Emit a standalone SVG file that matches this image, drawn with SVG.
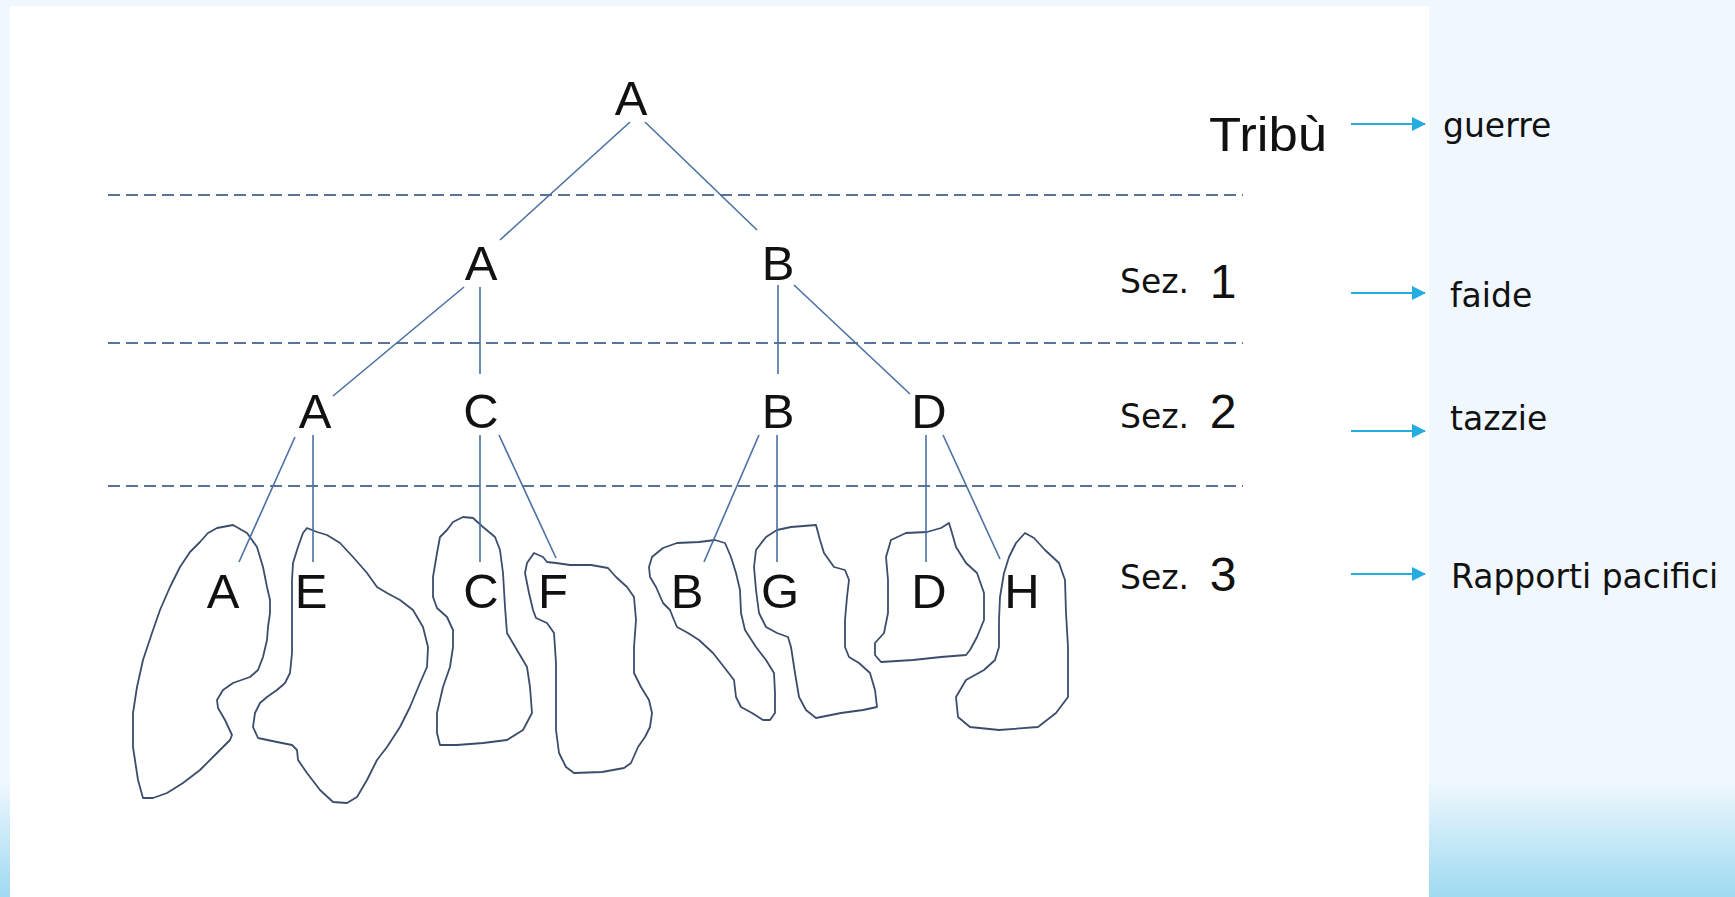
<svg xmlns="http://www.w3.org/2000/svg" width="1735" height="897" viewBox="0 0 1735 897">
  <defs>
    <linearGradient id="bottomFade" x1="0" y1="0" x2="0" y2="1">
      <stop offset="0" stop-color="#f0f8fd"/>
      <stop offset="1" stop-color="#9fdaf2"/>
    </linearGradient>
    <marker id="arrowHead" viewBox="0 0 14 14" refX="13" refY="7" markerWidth="14" markerHeight="14" markerUnits="userSpaceOnUse" orient="auto">
      <path d="M0,0 L14,7 L0,14 Z" fill="#27ace2"/>
    </marker>
  </defs>
  <style>
    .tree { font-family: "Liberation Sans", Arial, sans-serif; font-size: 49px; fill: #111; text-anchor: middle; }
    .num { font-family: "Liberation Sans", Arial, sans-serif; font-size: 48px; fill: #111; text-anchor: middle; }
    .lbl { font-family: "DejaVu Sans", sans-serif; font-size: 33px; fill: #111; }
    .edge { stroke: #4a70a4; stroke-width: 1.6; fill: none; }
    .level { stroke: #5b7396; stroke-width: 2; stroke-dasharray: 12 6; fill: none; }
    .blob { stroke: #3c4d6c; stroke-width: 1.8; fill: none; stroke-linejoin: round; }
    .arrow { stroke: #27ace2; stroke-width: 2.2; fill: none; }
  </style>

  <!-- page background -->
  <rect x="0" y="0" width="1735" height="897" fill="#f0f8fd"/>
  <rect x="0" y="780" width="1735" height="117" fill="url(#bottomFade)"/>
  <rect x="10" y="6" width="1419" height="891" fill="#ffffff"/>

  <!-- segment level separators -->
  <g id="levels">
    <line class="level" x1="108" y1="195" x2="1243" y2="195"/>
    <line class="level" x1="108" y1="343" x2="1243" y2="343"/>
    <line class="level" x1="108" y1="486" x2="1243" y2="486"/>
  </g>

  <!-- territory outlines -->
  <g id="territories">
    <path class="blob" d="M233,525 L217,528 L208,533 L200,542 L190,552 L180,567 L170,587 L160,610 L152,633 L143,660 L137,687 L133,713 L133,747 L138,780 L143,798 L153,798 L167,793 L183,783 L200,770 L217,753 L230,740 L232,735 L225,720 L218,708 L217,700 L223,690 L233,683 L250,677 L258,670 L263,657 L267,640 L268,627 L270,613 L270,600 L267,587 L263,567 L257,547 L247,533 Z"/>
    <path class="blob" d="M307,528 L317,532 L327,535 L340,543 L353,557 L367,573 L377,587 L387,593 L400,600 L413,610 L423,627 L428,647 L427,667 L420,683 L410,707 L400,727 L387,747 L377,760 L367,780 L357,797 L347,803 L333,802 L320,790 L307,773 L298,760 L297,750 L292,745 L277,742 L258,738 L253,727 L255,713 L260,703 L267,697 L277,690 L285,683 L290,673 L292,653 L292,630 L292,607 L292,580 L293,563 L298,547 L303,533 Z"/>
    <path class="blob" d="M463,517 L473,518 L483,527 L495,537 L500,550 L503,573 L505,607 L507,633 L517,650 L527,667 L530,687 L532,713 L523,730 L507,740 L483,743 L457,745 L440,745 L437,733 L437,713 L443,687 L450,667 L453,647 L453,630 L447,617 L437,608 L433,597 L433,577 L437,553 L440,537 L447,530 L453,522 Z"/>
    <path class="blob" d="M534,553 L543,557 L547,562 L556,563 L570,565 L591,565 L608,568 L616,577 L627,587 L634,597 L636,620 L634,647 L634,673 L641,687 L649,700 L652,713 L650,727 L645,737 L638,747 L631,763 L624,768 L602,772 L574,773 L566,767 L559,753 L556,730 L556,697 L556,663 L554,633 L547,623 L536,618 L533,610 L529,593 L525,573 L527,563 Z"/>
    <path class="blob" d="M652,557 L663,548 L677,543 L699,542 L715,540 L725,543 L731,557 L736,573 L740,590 L741,613 L745,630 L756,647 L766,660 L774,673 L775,693 L775,713 L770,720 L763,720 L752,713 L741,707 L736,697 L734,680 L724,667 L713,653 L699,640 L688,633 L677,627 L674,620 L670,610 L663,603 L656,587 L650,577 L649,567 Z"/>
    <path class="blob" d="M777,530 L791,527 L816,525 L820,540 L824,553 L834,567 L845,570 L849,580 L847,597 L845,620 L845,647 L849,657 L859,663 L870,673 L875,690 L877,707 L863,710 L841,713 L816,718 L806,710 L799,697 L795,673 L791,647 L788,637 L777,633 L766,627 L759,613 L756,590 L754,567 L756,550 L766,537 Z"/>
    <path class="blob" d="M891,540 L906,533 L927,532 L941,528 L949,523 L952,533 L956,547 L966,563 L977,573 L984,593 L984,620 L977,637 L970,650 L966,655 L941,657 L913,660 L881,662 L875,655 L875,643 L884,633 L888,613 L888,580 L886,557 Z"/>
    <path class="blob" d="M1009,557 L1016,543 L1025,533 L1034,538 L1045,550 L1059,563 L1065,580 L1066,613 L1068,647 L1068,697 L1056,713 L1038,727 L999,730 L970,727 L958,717 L956,697 L966,680 L984,670 L995,660 L999,647 L999,620 L1000,597 L1004,573 Z"/>
  </g>

  <!-- segmentation tree edges -->
  <g id="connectors">
    <line class="edge" x1="630" y1="122" x2="500" y2="240"/>
    <line class="edge" x1="645" y1="122" x2="757" y2="230"/>
    <line class="edge" x1="464" y1="287" x2="333" y2="396"/>
    <line class="edge" x1="480" y1="287" x2="480" y2="374"/>
    <line class="edge" x1="778" y1="285" x2="778" y2="374"/>
    <line class="edge" x1="794" y1="285" x2="910" y2="394"/>
    <line class="edge" x1="295" y1="437" x2="239" y2="562"/>
    <line class="edge" x1="313" y1="435" x2="313" y2="562"/>
    <line class="edge" x1="480" y1="435" x2="480" y2="562"/>
    <line class="edge" x1="499" y1="435" x2="556" y2="558"/>
    <line class="edge" x1="759" y1="435" x2="704" y2="562"/>
    <line class="edge" x1="777" y1="435" x2="777" y2="562"/>
    <line class="edge" x1="926" y1="435" x2="926" y2="562"/>
    <line class="edge" x1="943" y1="435" x2="1000" y2="559"/>
    <line class="arrow" x1="1351" y1="124" x2="1425" y2="124" marker-end="url(#arrowHead)"/>
    <line class="arrow" x1="1351" y1="293" x2="1425" y2="293" marker-end="url(#arrowHead)"/>
    <line class="arrow" x1="1351" y1="431" x2="1425" y2="431" marker-end="url(#arrowHead)"/>
    <line class="arrow" x1="1351" y1="574" x2="1425" y2="574" marker-end="url(#arrowHead)"/>
  </g>

  <!-- tree nodes -->
  <g id="tribe-A"><text class="tree" x="631" y="115">A</text></g>
  <g id="s1-A"><text class="tree" x="481" y="280">A</text></g>
  <g id="s1-B"><text class="tree" x="778" y="280">B</text></g>
  <g id="s2-A"><text class="tree" x="315" y="428">A</text></g>
  <g id="s2-C"><text class="tree" x="481" y="428">C</text></g>
  <g id="s2-B"><text class="tree" x="778" y="428">B</text></g>
  <g id="s2-D"><text class="tree" x="929" y="428">D</text></g>
  <g id="s3-A"><text class="tree" x="223" y="608">A</text></g>
  <g id="s3-E"><text class="tree" x="311" y="608">E</text></g>
  <g id="s3-C"><text class="tree" x="481" y="608">C</text></g>
  <g id="s3-F"><text class="tree" x="553" y="608">F</text></g>
  <g id="s3-B"><text class="tree" x="687" y="608">B</text></g>
  <g id="s3-G"><text class="tree" x="780" y="608">G</text></g>
  <g id="s3-D"><text class="tree" x="929" y="608">D</text></g>
  <g id="s3-H"><text class="tree" x="1022" y="608">H</text></g>

  <!-- level names -->
  <g id="level-tribe"><text class="num" x="1268" y="151" textLength="118" lengthAdjust="spacingAndGlyphs">Tribù</text></g>
  <g id="level-1"><text class="lbl" x="1120" y="293">Sez.</text><text class="num" x="1223" y="298">1</text></g>
  <g id="level-2"><text class="lbl" x="1120" y="428">Sez.</text><text class="num" x="1223" y="428">2</text></g>
  <g id="level-3"><text class="lbl" x="1120" y="589">Sez.</text><text class="num" x="1223" y="591">3</text></g>

  <!-- relation labels -->
  <g id="rel-guerre"><text class="lbl" x="1443" y="137">guerre</text></g>
  <g id="rel-faide"><text class="lbl" x="1450" y="307">faide</text></g>
  <g id="rel-tazzie"><text class="lbl" x="1450" y="430">tazzie</text></g>
  <g id="rel-pacifici"><text class="lbl" x="1451" y="588">Rapporti pacifici</text></g>
</svg>
